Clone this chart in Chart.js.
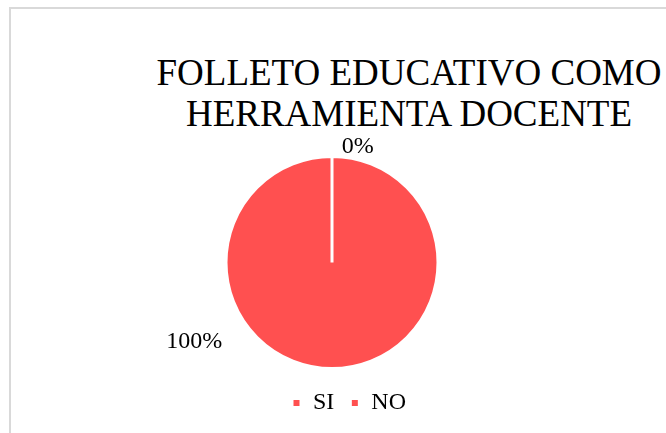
<!DOCTYPE html>
<html>
<head>
<meta charset="utf-8">
<script src="https://cdn.jsdelivr.net/npm/chart.js@4.4.1/dist/chart.umd.min.js"></script>
<style>
  html, body { margin: 0; padding: 0; width: 666px; height: 433px; overflow: hidden; background: #fff; }
  #frame { position: absolute; left: 9px; top: 7px; width: 900px; height: 600px; border: 2px solid #d9d9d9; box-sizing: border-box; }
  #title { position: absolute; left: 0; top: 52px; width: 818px; text-align: center; white-space: nowrap;
           font-family: 'Liberation Serif', 'Times New Roman', serif; font-size: 37px; line-height: 41px; color: #000; }
  #c { position: absolute; left: 0; top: 0; }
</style>
</head>
<body>
<div id="frame"></div>
<div id="title">FOLLETO EDUCATIVO COMO<br>HERRAMIENTA DOCENTE</div>
<canvas id="c" width="666" height="433"></canvas>
<script>
const chartTitle = ['FOLLETO EDUCATIVO COMO', 'HERRAMIENTA DOCENTE'];
const categories = ['SI', 'NO'];
const values = [100, 0];
const sliceColors = ['#FF5050', '#FF5050'];

// label placement relative to pie (angle clockwise from top in degrees, distance in radii)
const labelPlacement = [
  { angle: 240, dist: 1.5 },
  { angle: 12.5, dist: 1.12 }
];

const pctLabels = {
  id: 'pctLabels',
  afterDatasetsDraw(chart) {
    const ctx = chart.ctx;
    const meta = chart.getDatasetMeta(0);
    const total = values.reduce((a, b) => a + b, 0);
    ctx.save();
    ctx.font = '24px "Liberation Serif", "Times New Roman", serif';
    ctx.fillStyle = '#000';
    ctx.textAlign = 'center';
    ctx.textBaseline = 'middle';
    meta.data.forEach((arc, i) => {
      const p = arc.getProps(['x', 'y', 'outerRadius'], true);
      const pl = labelPlacement[i];
      const a = pl.angle * Math.PI / 180;
      const x = p.x + Math.sin(a) * p.outerRadius * pl.dist;
      const y = p.y - Math.cos(a) * p.outerRadius * pl.dist;
      const pct = Math.round(values[i] / total * 100) + '%';
      ctx.fillText(pct, x, y);
    });
    ctx.restore();
  }
};

const legendShift = {
  id: 'legendShift',
  afterLayout(chart) {
    const lg = chart.legend;
    if (lg) {
      lg.left += 17; lg.right += 17;
      lg.top += 5; lg.bottom += 5;
    }
  }
};

new Chart(document.getElementById('c'), {
  type: 'pie',
  data: {
    labels: categories,
    datasets: [{
      data: values,
      backgroundColor: sliceColors,
      borderColor: '#ffffff',
      borderWidth: 3
    }]
  },
  options: {
    responsive: false,
    animation: false,
    layout: { padding: { top: 155, bottom: 13, left: 0, right: 2 } },
    plugins: {
      title: { display: false },
      tooltip: { enabled: false },
      legend: {
        position: 'bottom',
        labels: {
          boxWidth: 9,
          boxHeight: 9,
          padding: 16,
          color: '#000',
          font: { family: "'Liberation Serif', 'Times New Roman', serif", size: 24 }
        }
      }
    }
  },
  plugins: [pctLabels, legendShift]
});
</script>
</body>
</html>
